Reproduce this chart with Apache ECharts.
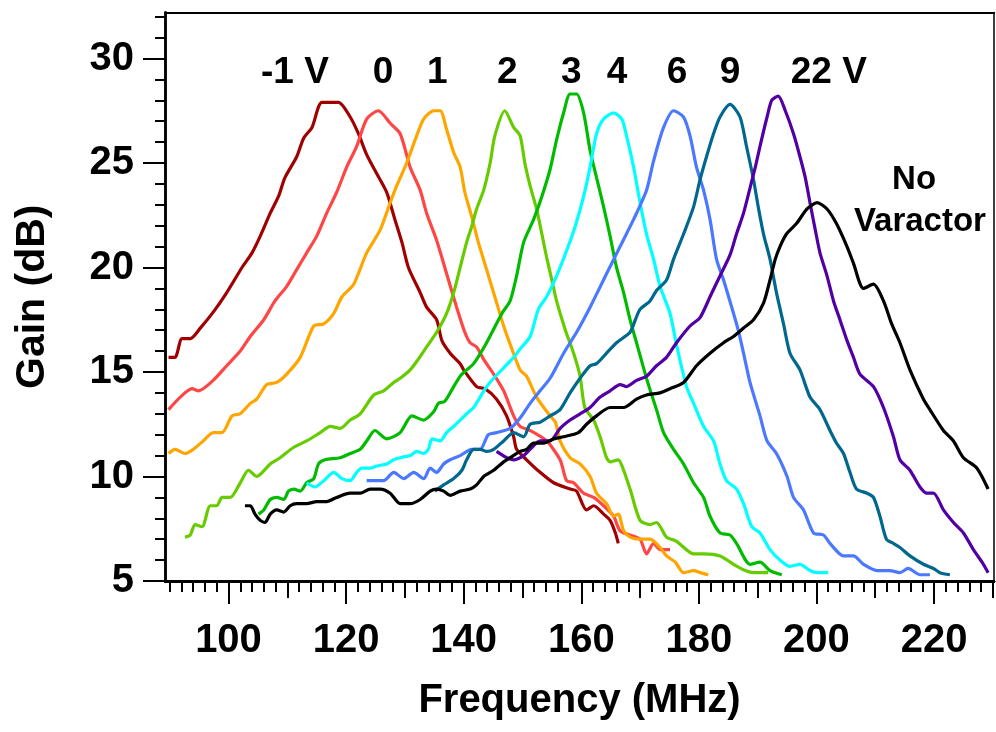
<!DOCTYPE html>
<html>
<head>
<meta charset="utf-8">
<script src="https://cdn.jsdelivr.net/npm/echarts@6/dist/echarts.min.js"></script>
<style>html,body{margin:0;padding:0;background:#fff}#c{width:996px;height:732px}</style>
</head>
<body>
<div id="c"></div>
<script>
// Frequency (MHz), Gain (dB)
const biasM1 = [[89.8,15.7],[90.9,15.7],[92.1,16.6],[93.5,16.6],[95.2,17.1],[97.5,17.9],[99.7,18.8],[102.3,20.0],[104.0,20.7],[105.4,21.5],[107.1,22.6],[108.5,23.4],[109.6,24.3],[111.6,25.3],[112.8,26.2],[114.2,26.7],[115.9,27.9],[118.7,27.9],[120.7,27.2],[122.1,26.4],[123.5,25.4],[125.2,24.5],[126.9,23.6],[128.3,22.3],[129.5,21.2],[130.6,20.0],[132.6,18.8],[133.7,18.1],[135.4,17.5],[136.3,16.5],[137.7,15.9],[139.4,15.4],[140.0,15.1],[142.2,14.3],[143.6,14.2],[145.6,13.7],[147.3,12.9],[148.5,11.9],[149.0,11.3],[150.7,10.8],[153.0,10.2],[155.3,9.7],[158.1,9.4],[159.2,9.3],[160.9,8.4],[162.1,8.6],[163.8,8.2],[164.9,7.9],[165.8,7.3],[166.3,6.8]];
const bias0 = [[89.8,13.2],[91.8,13.8],[93.8,14.2],[94.9,14.1],[97.4,14.6],[99.7,15.3],[102.0,16.0],[103.7,16.7],[106.0,17.5],[107.9,18.4],[109.9,19.1],[111.6,19.9],[113.3,20.7],[115.0,21.5],[116.7,22.6],[118.4,23.6],[120.1,24.8],[121.8,25.8],[123.5,27.1],[125.5,27.5],[127.5,26.9],[129.2,26.4],[130.9,24.8],[132.6,23.7],[133.7,22.6],[135.4,21.3],[137.1,19.7],[138.8,18.1],[140.2,16.9],[141.1,16.4],[142.2,16.2],[143.4,15.6],[145.1,14.9],[146.8,14.1],[148.5,12.9],[149.6,12.4],[151.3,12.2],[154.1,11.7],[156.4,10.8],[157.5,9.8],[158.7,9.7],[160.4,9.2],[162.1,9.0],[163.8,8.6],[165.5,8.1],[166.6,7.4],[168.3,7.2],[170.0,7.0],[171.1,6.3],[172.3,6.8],[173.4,6.5],[175.1,6.5]];
const bias1 = [[89.8,11.1],[90.9,11.3],[92.6,11.1],[94.0,11.3],[95.7,11.7],[97.4,12.1],[98.9,12.1],[100.6,12.9],[102.0,13.0],[103.7,13.5],[104.8,13.7],[106.5,14.4],[108.2,14.5],[109.9,14.9],[112.2,15.7],[114.5,17.2],[116.2,17.3],[117.9,17.8],[119.3,18.6],[121.3,19.2],[123.5,20.7],[125.8,21.8],[127.5,23.1],[128.6,23.9],[130.3,25.0],[132.0,26.3],[133.2,27.1],[134.9,27.5],[136.0,27.5],[137.1,26.6],[138.3,25.5],[139.4,24.8],[140.2,23.6],[141.4,22.4],[142.5,21.2],[143.9,19.9],[145.3,18.6],[146.8,17.2],[148.2,16.1],[149.6,15.1],[150.7,14.8],[152.4,13.8],[154.7,12.9],[155.6,12.6],[156.4,11.7],[158.1,10.9],[159.8,10.6],[161.5,10.0],[162.6,9.2],[164.3,8.7],[165.5,8.1],[166.3,8.2],[167.2,7.4],[168.3,7.1],[170.0,7.0],[171.7,7.0],[173.4,6.6],[174.5,6.2],[176.0,5.9],[177.4,5.4],[179.1,5.5],[180.2,5.4],[181.6,5.3]];
const bias2 = [[92.6,7.1],[93.5,7.2],[94.3,7.7],[95.5,7.6],[96.9,8.6],[98.0,8.6],[98.9,9.0],[100.3,9.0],[102.0,9.7],[103.4,10.3],[104.8,10.0],[107.1,10.6],[108.8,10.9],[111.1,11.4],[113.3,11.7],[115.6,12.1],[117.3,12.4],[119.0,12.3],[120.7,12.7],[122.4,13.0],[124.7,13.9],[126.4,14.1],[128.1,14.5],[129.2,14.7],[130.9,15.1],[132.0,15.5],[133.7,16.2],[135.4,16.9],[137.1,17.8],[138.3,18.8],[139.4,20.0],[140.5,21.2],[141.4,22.0],[142.2,22.8],[143.4,23.7],[144.5,25.0],[145.3,26.3],[147.0,27.5],[148.5,26.7],[149.6,26.3],[150.4,25.0],[151.3,23.9],[152.4,22.8],[153.3,21.6],[154.1,20.5],[155.0,19.4],[155.8,18.4],[157.3,17.0],[158.7,15.9],[159.8,14.8],[160.6,13.3],[162.1,12.7],[163.2,11.9],[164.3,10.9],[164.9,10.7],[166.3,10.8],[167.2,10.3],[168.3,9.4],[170.0,7.9],[171.7,7.7],[172.8,7.8],[174.5,7.1],[176.2,6.9],[179.1,6.3],[180.8,6.3],[183.6,6.2],[185.9,5.8],[187.9,5.5],[189.3,5.4],[191.8,5.4]];
const bias3 = [[105.1,8.2],[106.0,8.4],[107.1,8.9],[108.2,9.0],[109.4,8.9],[110.2,9.3],[111.1,9.4],[112.2,9.3],[113.3,9.7],[114.5,9.9],[115.3,10.6],[116.4,10.8],[119.0,10.9],[120.7,11.1],[122.4,11.3],[123.5,11.7],[124.9,12.2],[126.9,11.8],[129.2,12.1],[131.2,12.9],[133.2,12.7],[134.9,13.1],[135.7,13.5],[136.8,13.6],[138.3,14.3],[139.4,14.8],[140.5,15.1],[141.7,15.4],[143.9,16.4],[146.5,17.8],[147.9,18.4],[149.0,19.6],[150.2,21.2],[151.9,22.3],[153.3,23.4],[154.7,24.7],[155.8,26.1],[157.0,27.4],[158.1,28.3],[159.2,28.3],[160.4,27.4],[161.5,25.6],[162.6,24.3],[163.8,22.9],[164.9,21.5],[166.0,20.0],[167.2,18.8],[168.3,17.5],[169.5,16.3],[171.2,14.6],[172.8,13.2],[174.0,12.1],[175.7,11.3],[177.4,10.6],[179.1,9.7],[180.8,9.0],[181.9,8.1],[183.6,7.3],[185.3,7.2],[186.4,6.8],[188.7,5.8],[190.4,5.9],[192.1,5.5],[194.1,5.3]];
const bias4 = [[113.3,9.7],[114.7,9.5],[116.2,9.8],[117.9,10.2],[119.3,9.9],[120.7,9.8],[121.8,10.2],[122.7,10.4],[124.1,10.4],[125.2,10.5],[126.9,10.6],[128.1,10.8],[129.2,10.9],[130.9,11.0],[132.0,11.2],[133.2,11.1],[134.0,11.3],[134.6,11.8],[136.0,11.7],[137.1,12.1],[138.3,12.4],[139.4,12.7],[140.5,13.0],[141.7,13.3],[142.8,13.8],[143.9,14.3],[145.1,14.7],[146.8,15.2],[148.5,15.7],[149.6,16.1],[151.3,16.7],[152.7,18.0],[154.1,18.6],[155.8,19.6],[157.5,20.8],[159.0,22.0],[160.4,23.4],[161.5,24.8],[162.6,26.4],[163.8,27.1],[165.5,27.4],[166.9,27.1],[167.7,26.3],[168.9,24.8],[170.0,23.1],[171.1,21.6],[172.3,20.4],[173.4,19.1],[175.1,17.8],[176.2,16.3],[177.9,14.3],[179.1,13.5],[180.8,12.4],[182.5,11.7],[183.6,10.6],[184.7,9.8],[186.4,9.4],[187.6,8.7],[189.0,7.6],[190.4,7.3],[192.1,6.5],[193.8,6.0],[195.5,5.7],[197.2,5.8],[198.9,5.5],[200.1,5.4],[202.0,5.4]];
const bias6 = [[123.5,9.8],[125.2,9.8],[126.4,9.8],[128.1,10.2],[129.8,9.9],[131.5,10.2],[133.2,9.9],[134.3,10.4],[135.4,10.2],[136.6,10.6],[137.7,10.8],[139.4,11.0],[141.4,11.3],[142.8,11.3],[144.2,12.0],[145.6,12.1],[147.9,12.3],[149.6,12.8],[151.3,13.5],[153.0,14.1],[154.7,14.7],[157.0,15.9],[159.2,16.9],[161.5,18.1],[164.3,19.7],[166.6,21.0],[168.9,22.3],[171.1,23.7],[172.3,25.1],[174.0,26.7],[175.7,27.5],[177.4,27.2],[178.5,26.3],[179.6,24.8],[180.8,23.7],[181.9,22.3],[183.0,20.4],[184.2,19.4],[185.9,17.8],[186.7,17.0],[187.6,15.9],[188.7,14.5],[190.4,12.9],[191.6,11.7],[193.2,11.1],[195.0,10.0],[196.1,9.0],[197.8,8.4],[199.5,7.3],[201.2,7.2],[202.3,6.8],[204.6,6.2],[206.3,6.2],[208.0,5.8],[210.3,5.5],[212.5,5.5],[214.2,5.4],[215.6,5.6],[217.6,5.3],[219.3,5.3]];
const bias9 = [[135.1,9.3],[136.6,9.6],[138.3,9.9],[139.7,10.3],[140.5,10.8],[141.7,11.3],[142.8,11.3],[143.9,11.2],[145.1,11.3],[146.8,11.7],[148.5,12.1],[150.2,11.9],[151.3,12.5],[153.0,12.6],[154.7,12.9],[156.4,13.2],[158.1,14.0],[159.8,14.7],[161.5,15.3],[162.6,15.4],[164.3,15.9],[166.0,16.4],[168.3,16.9],[169.2,17.5],[170.0,18.0],[171.7,18.4],[172.8,18.9],[174.5,19.4],[175.7,20.4],[177.4,21.6],[179.1,22.9],[180.2,24.2],[181.3,25.3],[182.5,26.4],[183.6,27.2],[185.3,27.8],[187.0,27.2],[188.1,25.8],[189.3,24.2],[190.1,22.9],[191.0,21.6],[192.1,20.4],[193.2,18.8],[194.4,17.3],[195.5,15.9],[197.2,15.1],[198.9,13.8],[200.6,13.2],[202.3,12.2],[203.4,11.6],[204.6,11.1],[205.7,10.2],[206.8,9.4],[208.6,9.2],[209.7,9.0],[210.8,8.1],[211.9,7.0],[213.1,6.8],[214.2,6.6],[215.9,6.2],[218.2,5.8],[219.9,5.6],[221.0,5.4],[222.7,5.3]];
const bias22 = [[145.6,11.2],[147.3,10.9],[148.5,10.8],[150.2,11.0],[151.3,11.3],[153.0,11.7],[154.7,11.7],[156.4,12.3],[158.1,12.7],[159.8,13.0],[161.5,13.3],[163.2,13.8],[164.9,14.1],[166.6,14.4],[167.7,14.3],[169.4,14.6],[171.1,14.8],[172.8,15.3],[174.5,15.7],[176.2,16.4],[178.5,17.2],[180.2,17.6],[181.9,18.6],[183.6,19.6],[185.3,20.6],[186.4,21.6],[187.6,22.6],[188.7,23.8],[189.6,24.8],[190.4,25.8],[191.6,27.2],[192.4,28.0],[193.5,28.2],[194.7,27.5],[196.1,26.4],[197.2,25.3],[198.1,24.3],[198.9,23.1],[199.8,21.8],[200.6,20.7],[201.8,19.6],[202.9,18.4],[204.0,17.5],[205.2,16.5],[206.3,15.7],[207.4,14.9],[209.7,14.3],[211.4,13.3],[213.1,11.9],[214.2,10.8],[215.9,10.3],[217.6,9.5],[218.8,9.2],[219.9,9.2],[221.6,8.4],[223.3,7.8],[225.0,7.3],[226.7,6.5],[228.4,5.8],[229.2,5.4]];
const noVaractor = [[102.8,8.6],[103.7,8.6],[104.5,8.2],[105.4,7.9],[106.2,7.8],[107.1,8.2],[108.2,8.4],[109.4,8.3],[110.5,8.6],[111.6,8.7],[113.3,8.7],[115.0,8.8],[116.7,8.8],[118.4,9.0],[120.7,9.2],[122.4,9.2],[124.1,9.4],[125.8,9.4],[127.5,9.2],[129.2,8.7],[130.9,8.7],[132.6,8.9],[134.3,9.3],[135.4,9.4],[136.6,9.3],[137.7,9.1],[139.4,9.3],[141.1,9.4],[142.2,9.6],[143.4,10.0],[145.1,10.3],[146.8,10.7],[147.9,10.9],[149.6,11.2],[150.7,11.3],[151.9,11.6],[153.6,11.6],[155.3,11.8],[157.0,11.9],[159.5,12.1],[160.9,12.5],[162.6,12.9],[164.9,13.3],[167.2,13.3],[169.4,13.7],[171.1,13.9],[173.4,14.0],[175.1,14.2],[177.4,14.5],[179.6,15.3],[181.9,15.9],[184.2,16.4],[185.9,16.7],[187.6,17.1],[189.3,17.5],[191.0,18.3],[192.1,19.4],[193.0,20.4],[193.8,21.0],[194.9,21.6],[196.6,22.1],[198.4,22.8],[200.1,23.1],[201.8,22.8],[203.4,22.1],[205.2,21.0],[206.3,20.2],[208.0,19.0],[209.7,19.2],[211.4,18.4],[212.8,17.3],[214.2,16.4],[215.9,15.1],[218.2,13.7],[219.3,13.2],[221.6,12.2],[223.3,11.7],[225.0,10.9],[227.3,10.4],[229.2,9.4]];

const curveNames = ['-1 V','0','1','2','3','4','6','9','22 V','No Varactor'];
const curveData = [biasM1,bias0,bias1,bias2,bias3,bias4,bias6,bias9,bias22,noVaractor];
const curveColors = ['#A00000','#FF4646','#FFA500','#66CC00','#00BB00','#00FFFF','#4A78FF','#00688F','#5200A3','#000000'];

// annotation texts placed in data coordinates [freq, gain, text]
const annotations = [[111.3,29.3,'-1 V'],[126.3,29.3,'0'],[135.5,29.3,'1'],[147.4,29.3,'2'],[158.3,29.3,'3'],[166.1,29.3,'4'],[176.3,29.3,'6'],[185.3,29.3,'9'],[202.1,29.3,'22 V']];
const annotations2 = [[216.6,24.2,'No'],[217.6,22.2,'Varactor']];

const xMin = 89.2, xMax = 230.2;
const yMin = 5, yMax = 32.2;
const xMajor = [100,120,140,160,180,200,220];
const xMid = [110,130,150,170,190,210,230];
const xMinor = []; for (let v = 90; v <= 230; v += 2) xMinor.push(v);
const yMajor = [5,10,15,20,25,30];
const yMinor = []; for (let v = 5; v <= 32; v += 1) yMinor.push(v);

const FONT = '"Liberation Sans", Arial, sans-serif';
const chart = echarts.init(document.getElementById('c'), null, {renderer: 'canvas'});

function xAx(extra) {
  return Object.assign({
    type: 'value', min: xMin, max: xMax, position: 'bottom',
    splitLine: {show: false},
    axisLine: {show: true, lineStyle: {color: '#000', width: 2.5}},
    axisLabel: {show: false},
    axisTick: {show: false}
  }, extra);
}
function yAx(extra) {
  return Object.assign({
    type: 'value', min: yMin, max: yMax, position: 'left',
    splitLine: {show: false},
    axisLine: {show: true, lineStyle: {color: '#000', width: 2.5}},
    axisLabel: {show: false},
    axisTick: {show: false}
  }, extra);
}

const series = curveData.map((d, i) => ({
  name: curveNames[i], type: 'line', data: d, showSymbol: false, symbol: 'none',
  smooth: 0.25,
  xAxisIndex: 0, yAxisIndex: 0,
  lineStyle: {color: curveColors[i], width: 3.2}, itemStyle: {color: curveColors[i]},
  z: 3, silent: true
}));
function labelSeries(data, size) {
  return {
    type: 'scatter', data: data, symbolSize: 1, xAxisIndex: 0, yAxisIndex: 0, silent: true,
    itemStyle: {color: 'rgba(255,255,255,0)'},
    label: {show: true, position: 'inside', formatter: p => p.data[2], color: '#000', opacity: 1,
      textBorderWidth: 0, textShadowBlur: 0,
      fontFamily: FONT, fontWeight: 'bold', fontSize: size},
    z: 5
  };
}
series.push(labelSeries(annotations, 37));
series.push(labelSeries(annotations2, 33));

chart.setOption({
  animation: false,
  backgroundColor: '#fff',
  grid: {left: 165, top: 12.5, right: 2, bottom: 151, containLabel: false, outerBoundsMode: 'none'},
  xAxis: [
    xAx({
      name: 'Frequency (MHz)', nameLocation: 'middle', nameGap: 100,
      nameTextStyle: {fontFamily: FONT, fontWeight: 'bold', fontSize: 40, color: '#000'},
      axisLabel: {show: true, customValues: xMajor, margin: 40, fontFamily: FONT, fontWeight: 'bold', fontSize: 40, color: '#000'},
      axisTick: {show: true, customValues: xMajor, length: 23, lineStyle: {color: '#000', width: 2}}
    }),
    xAx({axisTick: {show: true, customValues: xMid, length: 17, lineStyle: {color: '#000', width: 2}}}),
    xAx({axisTick: {show: true, customValues: xMinor, length: 11, lineStyle: {color: '#000', width: 2}}}),
    xAx({position: 'top', axisLine: {show: true, lineStyle: {color: '#000', width: 2}}})
  ],
  yAxis: [
    yAx({
      name: 'Gain (dB)', nameLocation: 'middle', nameGap: 112, nameRotate: 90,
      nameTextStyle: {fontFamily: FONT, fontWeight: 'bold', fontSize: 41, color: '#000'},
      axisLabel: {show: true, customValues: yMajor, margin: 31, fontFamily: FONT, fontWeight: 'bold', fontSize: 40, color: '#000'},
      axisTick: {show: true, customValues: yMajor, length: 22, lineStyle: {color: '#000', width: 2}}
    }),
    yAx({axisTick: {show: true, customValues: yMinor, length: 10, lineStyle: {color: '#000', width: 2}}}),
    yAx({position: 'right', axisLine: {show: true, lineStyle: {color: '#000', width: 1.5}}})
  ],
  series: series
});
</script>
</body>
</html>
